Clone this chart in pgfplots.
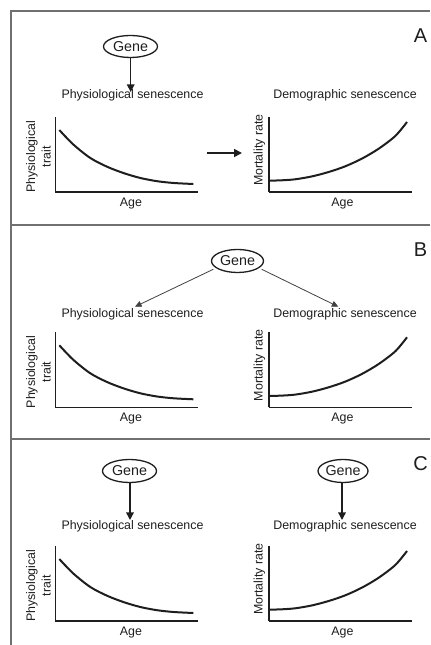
\documentclass[border=0pt]{standalone}
\usepackage{pgfplots}
\pgfplotsset{compat=1.18}
\usepackage{pgfplotstable}
\usetikzlibrary{arrows.meta}
\usepackage{fontspec}
\setmainfont{Liberation Sans}
\definecolor{ink}{HTML}{1E1E1E}
\definecolor{frame}{HTML}{707070}

\pgfplotstableread{
x y
4 62
18 47.5
35 34
51.7 25.3
68.3 18.9
85 14
101.7 10.8
118.3 9
138 8
}\physdata
\pgfplotstableread{
x y
0.5 11.3
13 11.7
26.3 12.7
43 15.6
59.7 20
76.3 25.7
93 33.4
109.7 43.3
126.3 56
138 70
}\mortdata

\newcommand{\lab}{\fontsize{12.4bp}{15.5bp}\selectfont}
\newcommand{\genefont}{\fontsize{14.3bp}{16bp}\selectfont}
\newcommand{\panelfont}{\fontsize{20bp}{22bp}\selectfont}

\pgfplotsset{
 senax/.style={
  scale only axis, width=142.7bp, height=75bp,
  xmin=0, xmax=142.7, ymin=0, ymax=75,
  axis x line=bottom, axis y line=left,
  axis line style={-, line width=1.4bp, draw=ink},
  xtick=\empty, ytick=\empty,
  clip=false,
  anchor=south west,
  label style={font=\lab, text=ink, anchor=center},
  title style={font=\lab, text=ink, anchor=center},
  xlabel={Age},
 },
 physax/.style 2 args={senax,
  title={Physiological senescence},
  title style={at={(axis description cs:0.541,#1)}},
  xlabel style={at={(axis description cs:0.53,#2)}},
  ylabel={Physiological\\trait},
  ylabel style={align=center, at={(axis description cs:-0.118,0.47)}},
 },
 mortax/.style 2 args={senax,
  title={Demographic senescence},
  title style={at={(axis description cs:0.533,#1)}},
  xlabel style={at={(axis description cs:0.515,#2)}},
  ylabel={Mortality rate},
  ylabel style={at={(axis description cs:-0.068,0.56)}},
 },
}

\begin{document}
\begin{tikzpicture}[x=1bp,y=1bp]
\path[use as bounding box] (0,0) rectangle (430,645);
% frame
\draw[frame, line width=1.5bp] (430,634) -- (11,634) -- (11,0);
\draw[frame, line width=1.5bp] (11,420) -- (430,420);
\draw[frame, line width=1.5bp] (11,206) -- (430,206);

% ---------------- Panel A
\node[font=\panelfont, text=ink] at (420.5,609) {A};
\draw[ink, line width=1.3bp] (130.5,598.5) ellipse [x radius=27, y radius=11];
\node[font=\genefont, text=ink] at (130.5,598.5) {Gene};
\draw[ink, line width=1.4bp, -{Triangle[length=7.5bp,width=7.5bp]}] (130.7,587.5) -- (130.7,553);
\draw[ink, line width=1.6bp, -{Triangle[length=8bp,width=8bp]}] (207,492) -- (242,492);

\begin{axis}[physax={1.204}{-0.16}, at={(55.3bp,453bp)}]
\addplot[ink, line width=2bp, smooth] table {\physdata};
\end{axis}
\begin{axis}[mortax={1.204}{-0.16}, at={(269bp,453bp)}]
\addplot[ink, line width=2bp, smooth] table {\mortdata};
\end{axis}

% ---------------- Panel B
\node[font=\panelfont, text=ink] at (420.5,395.5) {B};
\draw[ink, line width=1.3bp] (237.5,384) ellipse [x radius=26, y radius=11.5];
\node[font=\genefont, text=ink] at (237.5,384) {Gene};
\draw[ink!85, line width=0.8bp, -{Triangle[length=6.5bp,width=6bp]}] (213.3,375.7) -- (135,338.3);
\draw[ink!85, line width=0.8bp, -{Triangle[length=6.5bp,width=6bp]}] (261.7,375.7) -- (338.3,338.3);

\begin{axis}[physax={1.164}{-0.147}, at={(55.3bp,237.7bp)}]
\addplot[ink, line width=2bp, smooth] table {\physdata};
\end{axis}
\begin{axis}[mortax={1.164}{-0.147}, at={(269bp,237.7bp)}]
\addplot[ink, line width=2bp, smooth] table {\mortdata};
\end{axis}

% ---------------- Panel C
\node[font=\panelfont, text=ink] at (420.5,181.5) {C};
\draw[ink, line width=1.3bp] (129.5,174) ellipse [x radius=27, y radius=11.5];
\node[font=\genefont, text=ink] at (129.5,174) {Gene};
\draw[ink, line width=1.4bp, -{Triangle[length=7.5bp,width=7.5bp]}] (130,162.5) -- (130,125);
\draw[ink, line width=1.3bp] (343,174) ellipse [x radius=25, y radius=11.5];
\node[font=\genefont, text=ink] at (343,174) {Gene};
\draw[ink, line width=1.4bp, -{Triangle[length=7.5bp,width=7.5bp]}] (342,162.5) -- (342,125);

\begin{axis}[physax={1.183}{-0.151}, at={(55.3bp,24bp)}]
\addplot[ink, line width=2bp, smooth] table {\physdata};
\end{axis}
\begin{axis}[mortax={1.183}{-0.151}, at={(269bp,24bp)}]
\addplot[ink, line width=2bp, smooth] table {\mortdata};
\end{axis}
\end{tikzpicture}
\end{document}
